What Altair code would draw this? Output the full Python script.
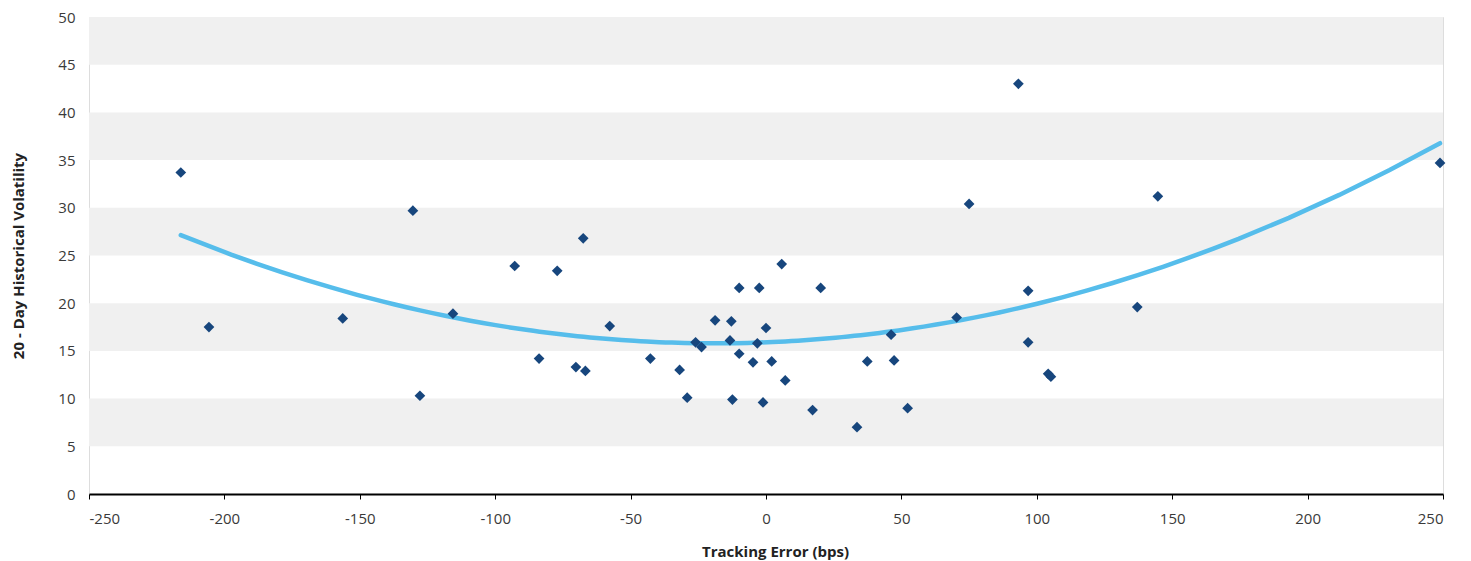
import altair as alt
import pandas as pd

# Scatter data: tracking error (bps) vs 20-day historical volatility
tracking_error = [-216.1, -205.7, -156.3, -130.4, -127.8, -115.6, -92.8, -83.8, -77.1, -70.2,
                  -67.5, -66.7, -57.7, -42.7, -31.9, -29.1, -26.0, -23.8, -18.8, -13.3,
                  -12.8, -12.4, -9.9, -9.9, -4.8, -3.2, -2.5, -1.1, 0.0, 2.1,
                  5.8, 7.1, 17.2, 20.2, 33.6, 37.4, 46.2, 47.3, 52.3, 70.4,
                  75.0, 93.2, 96.8, 96.8, 104.2, 105.2, 137.1, 144.7, 248.9]
volatility = [33.7, 17.5, 18.4, 29.7, 10.3, 18.9, 23.9, 14.2, 23.4, 13.3,
              26.8, 12.9, 17.6, 14.2, 13.0, 10.1, 15.9, 15.4, 18.2, 16.1,
              18.1, 9.9, 21.6, 14.7, 13.8, 15.8, 21.6, 9.6, 17.4, 13.9,
              24.1, 11.9, 8.8, 21.6, 7.0, 13.9, 16.7, 14.0, 9.0, 18.5,
              30.4, 43.0, 21.3, 15.9, 12.6, 12.3, 19.6, 31.2, 34.7]

# Alternating background bands
band_low = [5, 15, 25, 35, 45]
band_high = [10, 20, 30, 40, 50]

x_ticks = [-250, -200, -150, -100, -50, 0, 50, 100, 150, 200, 250]
y_ticks = [0, 5, 10, 15, 20, 25, 30, 35, 40, 45, 50]

W, H = 1354, 477
FONT = "Open Sans"

df = pd.DataFrame({"te": tracking_error, "vol": volatility})
bands = pd.DataFrame({"lo": band_low, "hi": band_high})

xscale = alt.Scale(domain=[-250, 250], nice=False)
yscale = alt.Scale(domain=[0, 50], nice=False)

band_layer = alt.Chart(bands).mark_rect(color="#F0F0F0").encode(
    x=alt.value(0),
    x2=alt.value(W),
    y=alt.Y("lo:Q", scale=yscale),
    y2="hi:Q",
)

points = alt.Chart(df).mark_point(
    shape="diamond", filled=True, size=115, color="#17467D", opacity=1
).encode(
    x=alt.X(
        "te:Q",
        scale=xscale,
        axis=alt.Axis(
            values=x_ticks,
            labelExpr="'' + datum.value",
            title="Tracking Error (bps)",
            grid=False,
            domainColor="#000000",
            domainWidth=2,
            tickColor="#000000",
            tickSize=5,
            labelPadding=12,
            labelFont=FONT,
            labelFontSize=15,
            labelColor="#3a3a3a",
            titleFont=FONT,
            titleFontSize=15,
            titleFontWeight="bold",
            titleColor="#222222",
            titleX=686,
            titleY=57,
            titleBaseline="middle",
        ),
    ),
    y=alt.Y(
        "vol:Q",
        scale=yscale,
        axis=alt.Axis(
            values=y_ticks,
            title="20 - Day Historical Volatility",
            grid=False,
            domain=False,
            ticks=False,
            labelPadding=14,
            labelFont=FONT,
            labelFontSize=15,
            labelColor="#3a3a3a",
            titleFont=FONT,
            titleFontSize=15,
            titleFontWeight="bold",
            titleColor="#222222",
            titleX=-71,
            titleY=H / 2,
            titleAngle=270,
            titleAlign="center",
            titleBaseline="middle",
        ),
    ),
)

trend = alt.Chart(df).transform_regression(
    "te", "vol", method="poly", order=2
).mark_line(color="#56BDEB", strokeWidth=4.5, strokeCap="round").encode(
    x=alt.X("te:Q", scale=xscale),
    y=alt.Y("vol:Q", scale=yscale),
)

chart = alt.layer(band_layer, trend, points).properties(
    width=W,
    height=H,
    autosize=alt.AutoSizeParams(type="none"),
    padding={"left": 81, "top": 9, "right": 20, "bottom": 67},
).configure_view(stroke=None).configure(background="#FFFFFF")

chart.save("out.html", embed_options={"renderer": "svg", "actions": False})
